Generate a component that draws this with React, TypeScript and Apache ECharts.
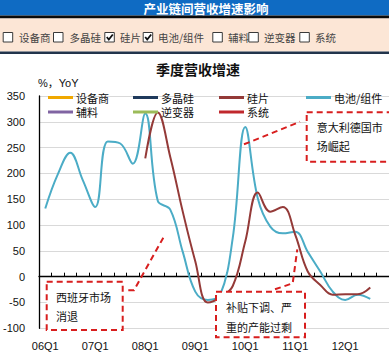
import React, { useEffect, useRef } from "react";
import * as echarts from "echarts";

const categories = [
  "06Q1", "06Q2", "06Q3", "06Q4",
  "07Q1", "07Q2", "07Q3", "07Q4",
  "08Q1", "08Q2", "08Q3", "08Q4",
  "09Q1", "09Q2", "09Q3", "09Q4",
  "10Q1", "10Q2", "10Q3", "10Q4",
  "11Q1", "11Q2", "11Q3", "11Q4",
  "12Q1", "12Q2", "12Q3", "12Q4",
];

const seriesNames = ["设备商", "多晶硅", "硅片", "电池/组件", "辅料", "逆变器", "系统"];
const seriesColors = ["#F0A800", "#1F3A5C", "#943A38", "#4BACC6", "#8064A2", "#9BBB59", "#C0282D"];

const equipmentValues: (number | null)[] = [];
const polysiliconValues: (number | null)[] = [];
const waferValues: (number | null)[] = [
  null, null, null, null, null, null, null, null,
  229, 318, 232, 126, 30, -50, -40, -18,
  68, 163, 126, 135, 81, 10, -16, -35,
  -34, -34, -21, null,
];
const cellModuleValues: (number | null)[] = [
  132, 198, 240, 187, 135, 262, 258, 219,
  316, 147, 130, 48, -29, -45, -35, 75,
  290, 152, 97, 84, 87, 48, 10, -29,
  -45, -35, -43, null,
];
const auxValues: (number | null)[] = [];
const inverterValues: (number | null)[] = [];
const systemValues: (number | null)[] = [];

const allValues = [
  equipmentValues, polysiliconValues, waferValues, cellModuleValues,
  auxValues, inverterValues, systemValues,
];

const checked = [false, false, true, true, false, false, false];

const FONT = "'Liberation Sans', Arial, 'Noto Sans CJK SC', sans-serif";
const CJK = "'Noto Sans CJK SC', 'Liberation Sans', sans-serif";

export default function App() {
  const ref = useRef<HTMLDivElement>(null);
  useEffect(() => {
    if (!ref.current) return;
    const chart = echarts.init(ref.current, null, { renderer: "svg" });

    const legendPos = [
      [48, 92], [133, 92], [219, 92], [306, 92],
      [48, 106.5], [133, 106.5], [219, 106.5],
    ];
    const legends = seriesNames.map((n, i) => ({
      data: [n],
      left: legendPos[i][0],
      top: legendPos[i][1],
      padding: 0,
      icon: "rect",
      itemWidth: 25,
      itemHeight: 3,
      itemGap: 0,
      selectedMode: false,
      textStyle: { fontSize: 11, color: "#111", fontFamily: CJK, padding: [0, 0, 0, -2] },
    }));

    const series = seriesNames.map((n, i) => ({
      name: n,
      type: "line",
      xAxisIndex: 0,
      data: allValues[i],
      smooth: 0.4,
      symbol: "none",
      showSymbol: false,
      connectNulls: false,
      lineStyle: { width: 2, color: seriesColors[i] },
      itemStyle: { color: seriesColors[i] },
      z: i === 2 ? 3 : 2,
    }));

    const boxX = [2.7, 53, 104.3, 142.7, 212.3, 248.3, 299.3];
    const labX = [19, 69.5, 120, 158, 228, 264, 315];
    const header: any[] = [
      { type: "rect", shape: { x: 0, y: 0, width: 389, height: 15.5 }, style: { fill: "#0F6BC3" }, z: 1 },
      { type: "rect", shape: { x: 0, y: 15.5, width: 389, height: 3 }, style: { fill: "#0A0A0A" }, z: 1 },
      { type: "rect", shape: { x: 0, y: 18.5, width: 389, height: 33 }, style: { fill: "#FCE6D6" }, z: 1 },
      { type: "rect", shape: { x: 0, y: 51.5, width: 389, height: 2.5 }, style: { fill: "#22344C" }, z: 1 },
      {
        type: "text", z: 2,
        style: { x: 206, y: 8, text: "产业链间营收增速影响", fill: "#ffffff", font: `bold 12.5px ${CJK}`, align: "center", verticalAlign: "middle" },
      },
    ];
    seriesNames.forEach((n, i) => {
      header.push({
        type: "rect", z: 2,
        shape: { x: boxX[i] + 0.5, y: 32.5, width: 9.5, height: 9.5 },
        style: { fill: "#ffffff", stroke: "#3a3a3a", lineWidth: 1 },
      });
      if (checked[i]) {
        header.push({
          type: "polyline", z: 3,
          shape: { points: [[boxX[i] + 2.5, 37], [boxX[i] + 4.5, 39.5], [boxX[i] + 8.5, 34.5]] },
          style: { stroke: "#111", lineWidth: 1.8, fill: null },
        });
      }
      header.push({
        type: "text", z: 2,
        style: { x: labX[i], y: 37.5, text: n, fill: "#444", font: `10.5px ${CJK}`, verticalAlign: "middle" },
      });
    });

    const red = "#D81E1E";
    const dash = [6, 4];
    const annotations: any[] = [
      { type: "rect", z: 10, shape: { x: 306.7, y: 112.3, width: 90, height: 49.4 }, style: { fill: "#ffffff", stroke: red, lineWidth: 2, lineDash: dash } },
      { type: "text", z: 11, style: { x: 316.7, y: 126.7, text: "意大利德国市", fill: "#111", font: `11px ${CJK}`, verticalAlign: "middle" } },
      { type: "text", z: 11, style: { x: 316.7, y: 146, text: "场崛起", fill: "#111", font: `11px ${CJK}`, verticalAlign: "middle" } },
      { type: "line", z: 10, shape: { x1: 244, y1: 144.3, x2: 300, y2: 121.7 }, style: { stroke: red, lineWidth: 2, lineDash: dash } },
      { type: "rect", z: 10, shape: { x: 46.7, y: 281.7, width: 76, height: 48.3 }, style: { fill: "#ffffff", stroke: red, lineWidth: 2, lineDash: dash } },
      { type: "text", z: 11, style: { x: 56, y: 296.7, text: "西班牙市场", fill: "#111", font: `11px ${CJK}`, verticalAlign: "middle" } },
      { type: "text", z: 11, style: { x: 56, y: 315.7, text: "消退", fill: "#111", font: `11px ${CJK}`, verticalAlign: "middle" } },
      { type: "polyline", z: 10, shape: { points: [[128.3, 290.3], [134, 290.3], [163.3, 237.7]] }, style: { stroke: red, lineWidth: 2, lineDash: dash, fill: null } },
      { type: "rect", z: 10, shape: { x: 216, y: 291.7, width: 89, height: 45.6 }, style: { fill: "#ffffff", stroke: red, lineWidth: 2, lineDash: dash } },
      { type: "text", z: 11, style: { x: 226, y: 307.3, text: "补贴下调、严", fill: "#111", font: `11px ${CJK}`, verticalAlign: "middle" } },
      { type: "text", z: 11, style: { x: 226, y: 326.7, text: "重的产能过剩", fill: "#111", font: `11px ${CJK}`, verticalAlign: "middle" } },
      { type: "polyline", z: 10, shape: { points: [[275, 289.3], [292.7, 283.3], [297.3, 249.3]] }, style: { stroke: red, lineWidth: 2, lineDash: dash, fill: null } },
      { type: "text", z: 5, style: { x: 38, y: 82.7, text: "%，YoY", fill: "#111", font: `11px ${FONT}`, verticalAlign: "middle" } },
    ];

    chart.setOption({
      animation: false,
      backgroundColor: "#ffffff",
      title: {
        text: "季度营收增速",
        left: 198,
        top: 62,
        textAlign: "center",
        textStyle: { fontSize: 14, fontWeight: "bold", color: "#111", fontFamily: CJK },
        padding: 0,
      },
      legend: legends,
      grid: { left: 36, right: -1.7, top: 96, bottom: 29.7, containLabel: false },
      xAxis: [
        {
          type: "category",
          data: categories,
          position: "bottom",
          boundaryGap: true,
          axisLine: { show: false, onZero: false },
          axisTick: { show: false },
          axisLabel: { interval: 3, margin: 12, fontSize: 11, color: "#111", fontFamily: FONT },
          splitLine: { show: false },
        },
        {
          type: "category",
          data: categories,
          position: "bottom",
          boundaryGap: true,
          axisLine: { show: true, onZero: true, lineStyle: { color: "#000", width: 1.3 } },
          axisTick: { show: true, inside: true, length: 4, interval: 0, lineStyle: { color: "#000" } },
          axisLabel: { show: false },
          splitLine: { show: false },
        },
      ],
      yAxis: {
        type: "value",
        min: -100,
        max: 350,
        interval: 50,
        axisLine: { show: true, lineStyle: { color: "#000", width: 1.3 } },
        axisTick: { show: false },
        axisLabel: { fontSize: 11, color: "#111", margin: 14, fontFamily: FONT },
        splitLine: { show: true, lineStyle: { color: "#D9D9D9", width: 1 } },
      },
      series,
      graphic: [...header, ...annotations],
    });
    return () => chart.dispose();
  }, []);
  return (
    <div
      ref={ref}
      style={{ position: "absolute", left: 0, top: 0, width: 389, height: 358 }}
    />
  );
}
